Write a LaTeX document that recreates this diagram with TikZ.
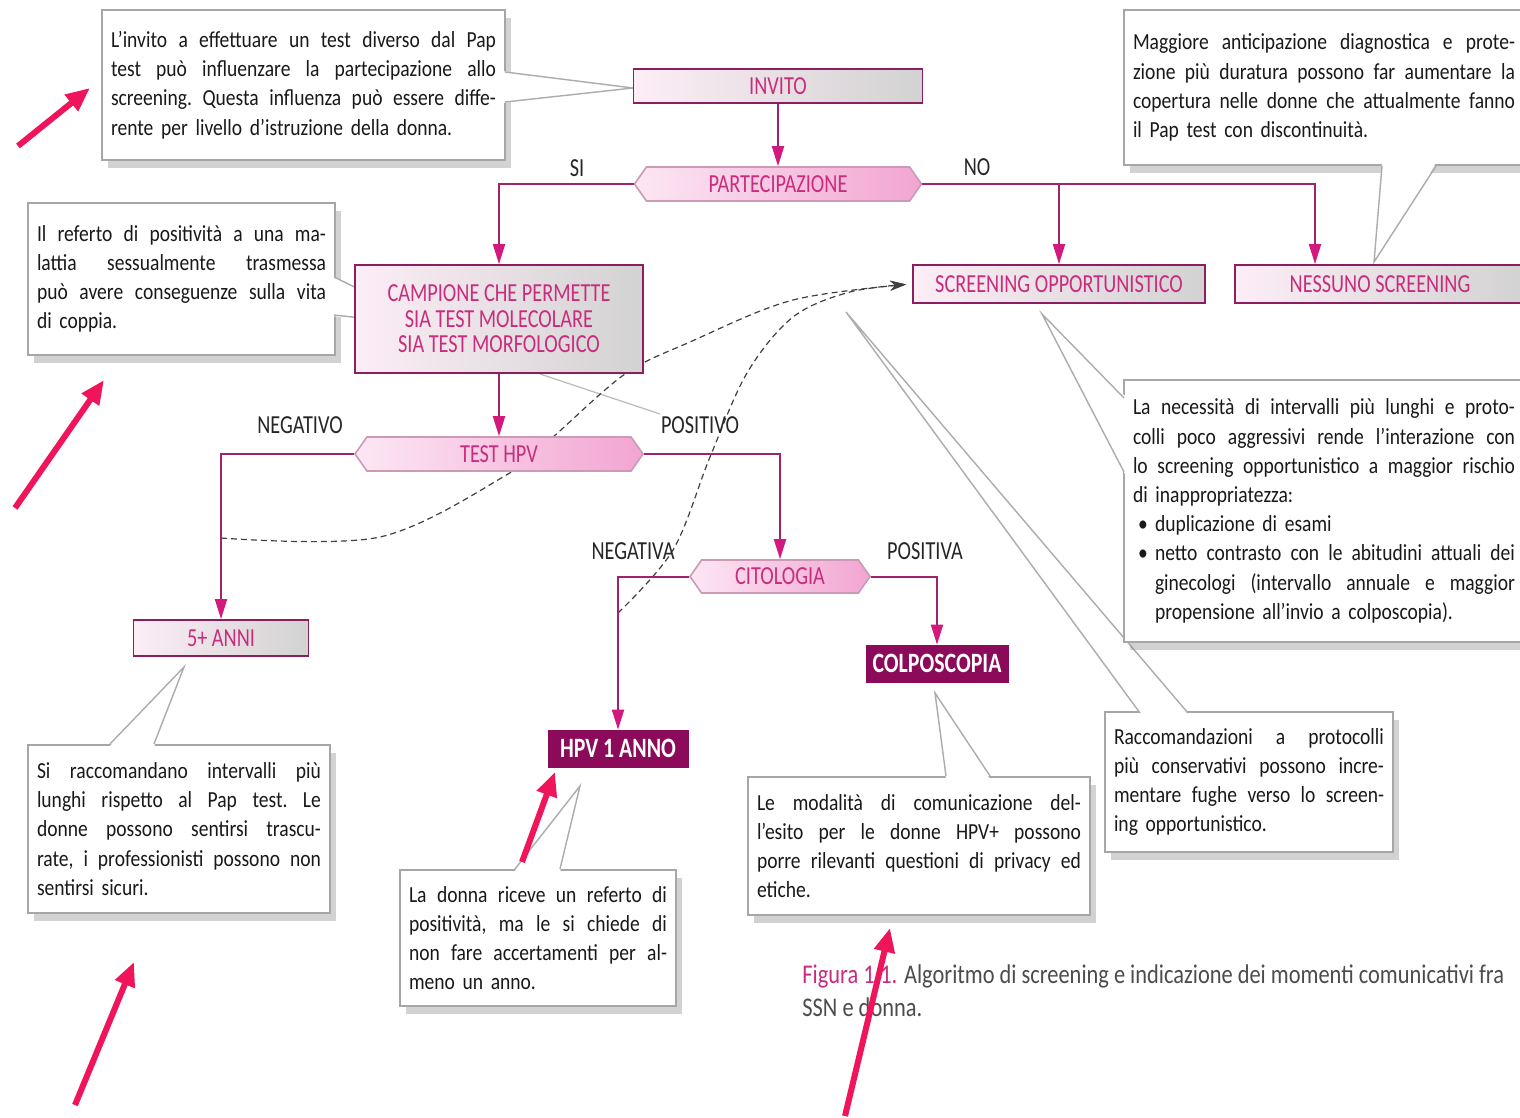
\documentclass[tikz,border=0pt]{standalone}
\usepackage{fontspec}
\setmainfont[FakeStretch=0.85]{Carlito}
\newfontfamily\condf[FakeStretch=0.78]{Carlito}
\newfontfamily\capf[FakeStretch=0.83]{Carlito}
\usetikzlibrary{shapes.symbols,arrows.meta,shadows,calc}
\pgfdeclarelayer{bgfill}
\pgfdeclarelayer{background}
\pgfsetlayers{bgfill,background,main}
\definecolor{bordmag}{RGB}{140,30,95}
\definecolor{txtmag}{RGB}{200,45,125}
\definecolor{darkmag}{RGB}{140,10,90}
\definecolor{linemag}{RGB}{160,35,110}
\definecolor{tipmag}{RGB}{210,25,125}
\definecolor{hotred}{RGB}{240,20,90}
\definecolor{pinkA}{RGB}{250,215,235}
\definecolor{pinkB}{RGB}{242,165,210}
\newdimen\cw
\newcommand\stretchsp{\frenchspacing\spaceskip=\fontdimen2\font plus 1fil minus \fontdimen4\font\relax
  \xspaceskip=\spaceskip}
\newcommand\JL[1]{\leavevmode\hbox to \cw{\stretchsp #1}\par}
\newcommand\JLi[1]{\leavevmode\hbox to \cw{\stretchsp\hskip 11pt #1}\par}
\newcommand\bul{\hbox to 11pt{\hskip 2.5pt•\hss}}
\begin{document}
\begin{tikzpicture}[x=0.5pt,y=-0.5pt,
  flowbox/.style={draw=bordmag,line width=0.9pt,left color=pinkA!45!white,right color=gray!35,
    inner sep=0pt,font=\condf\fontsize{13}{12.75}\selectfont,text=txtmag,align=center},
  hexbox/.style={shape=signal,signal to=west and east,signal pointer angle=110,
    draw=bordmag!45!white,line width=0.8pt,left color=pinkA!60!white,right color=pinkB,
    inner sep=0pt,font=\condf\fontsize{13}{13}\selectfont,text=txtmag},
  darkbox/.style={fill=darkmag,draw=darkmag,text=white,inner sep=0pt,
    font=\condf\bfseries\fontsize{14}{14}\selectfont},
  callout/.style={draw=gray!70,fill=white,line width=0.6pt,text width=#1,
    execute at begin node={\cw=#1\relax},
    drop shadow={shadow xshift=3pt,shadow yshift=-4pt,opacity=0.35,fill=gray},
    font=\fontsize{11.5}{14.6}\selectfont,text=black!90,align=left,inner xsep=4.5pt,inner ysep=0pt},
  flow/.style={draw=linemag,line width=1pt,-{Triangle[length=10pt,width=6pt,color=tipmag]}},
  lbl/.style={font=\condf\fontsize{13}{13}\selectfont,text=black!85,inner sep=0pt},
  ptrfill/.style={fill=white},
  ptr/.style={draw=gray!65,line width=0.7pt},
  dcurve/.style={draw=black!75,dash pattern=on 3pt off 2pt,line width=0.6pt,
    -{Stealth[length=8pt,width=5pt]}},
  redarrow/.style={draw=hotred,line width=3pt,-{Triangle[length=12pt,width=10pt]}}
]
\useasboundingbox (0,0) rectangle (1520,1118);
\begin{pgfonlayer}{bgfill}
\fill[white] (0,0) rectangle (1520,1118);
\end{pgfonlayer}

% callouts
\node[callout=192.5pt,minimum height=75pt] (c1) at (303.5,85) {%
\JL{L'invito a effettuare un test diverso dal Pap}
\JL{test può influenzare la partecipazione allo}
\JL{screening. Questa influenza può essere diffe-}
rente per livello d'istruzione della donna.};

\node[callout=191pt,minimum height=77.5pt] (cright) at (1324,87.5) {%
\JL{Maggiore anticipazione diagnostica e prote-}
\JL{zione più duratura possono far aumentare la}
\JL{copertura nelle donne che attualmente fanno}
il Pap test con discontinuità.};

\node[callout=144.5pt,minimum height=76pt] (cref) at (181.5,279) {%
\JL{Il referto di positività a una ma-}
\JL{lattia sessualmente trasmessa}
\JL{può avere conseguenze sulla vita}
di coppia.};

\node[callout=142pt,minimum height=84pt] (csi) at (179,829) {%
\JL{Si raccomandano intervalli più}
\JL{lunghi rispetto al Pap test. Le}
\JL{donne possono sentirsi trascu-}
\JL{rate, i professionisti possono non}
sentirsi sicuri.};

\node[callout=129pt,minimum height=68pt] (cdonna) at (538,938) {%
\JL{La donna riceve un referto di}
\JL{positività, ma le si chiede di}
\JL{non fare accertamenti per al-}
meno un anno.};

\node[callout=162pt,minimum height=69pt] (cmod) at (919,846) {%
\JL{Le modalità di comunicazione del-}
\JL{l'esito per le donne HPV+ possono}
\JL{porre rilevanti questioni di privacy ed}
etiche.};

\node[callout=135pt,minimum height=70pt] (cracc) at (1249,782) {%
\JL{Raccomandazioni a protocolli}
\JL{più conservativi possono incre-}
\JL{mentare fughe verso lo screen-}
ing opportunistico.};

% long pointer to cracc (passes behind cnec)
\fill[ptrfill] (1140,714) -- (846,312) -- (1188,714) -- cycle;
\draw[ptr] (1140,713) -- (846,312) -- (1188,713);

\node[callout=191pt,minimum height=131pt] (cnec) at (1324,511) {%
\JL{La necessità di intervalli più lunghi e proto-}
\JL{colli poco aggressivi rende l'interazione con}
\JL{lo screening opportunistico a maggior rischio}
\leavevmode di inappropriatezza:\par
\leavevmode\bul duplicazione di esami\par
\leavevmode\hbox to \cw{\stretchsp\bul netto contrasto con le abitudini attuali dei}\par
\JLi{ginecologi (intervallo annuale e maggior}
\leavevmode\hspace*{11pt}propensione all'invio a colposcopia).};

% pointer wedges
\fill[ptrfill] (502,71) -- (633,88) -- (502,103) -- cycle;
\draw[ptr] (505,72) -- (633,88) -- (505,102);
\fill[ptrfill] (1382,163) -- (1374,262) -- (1436,163) -- cycle;
\draw[ptr] (1382,166) -- (1374,262) -- (1436,166);
\fill[ptrfill] (331,276) -- (434,326) -- (331,316) -- cycle;
\draw[ptr] (334,277) -- (434,326) -- (334,315);
\fill[ptrfill] (1125,396) -- (1042,314) -- (1125,474) -- cycle;
\draw[ptr] (1124,398) -- (1042,314) -- (1124,472);
\fill[ptrfill] (109,747) -- (184,667) -- (154,747) -- cycle;
\draw[ptr] (110,744) -- (184,667) -- (154,744);
\fill[ptrfill] (514,872) -- (580,786) -- (560,872) -- cycle;
\draw[ptr] (515,869) -- (580,786) -- (560,869);
\fill[ptrfill] (946,779) -- (935,693) -- (990,779) -- cycle;
\draw[ptr] (946,776) -- (935,693) -- (990,776);

% flow nodes
\node[flowbox,minimum width=144.5pt,minimum height=17pt] (invito) at (778,86) {INVITO};
\node[hexbox,minimum width=143.5pt,minimum height=17pt] (parte) at (778,184) {PARTECIPAZIONE};
\node[flowbox,minimum width=144pt,minimum height=54pt] (campione) at (499,319)
  {CAMPIONE CHE PERMETTE\\SIA TEST MOLECOLARE\\SIA TEST MORFOLOGICO};
\node[hexbox,minimum width=144pt,minimum height=17pt] (testhpv) at (499,454) {TEST HPV};
\node[flowbox,minimum width=146pt,minimum height=19pt] (screen) at (1059,284) {SCREENING OPPORTUNISTICO};
\node[flowbox,minimum width=145pt,minimum height=19pt] (nessuno) at (1380,284) {NESSUNO SCREENING};
\node[flowbox,minimum width=87.5pt,minimum height=18pt] (cinque) at (221,638) {5+ ANNI};
\node[hexbox,minimum width=90pt,minimum height=16.5pt] (citologia) at (780,576.5) {CITOLOGIA};
\node[darkbox,minimum width=70pt,minimum height=18.5pt] (hpv1) at (618,748.5) {HPV 1 ANNO};
\node[darkbox,minimum width=71pt,minimum height=18.5pt] (colpo) at (937,663.5) {COLPOSCOPIA};

% connectors
\draw[flow] (invito.south) -- (parte.north);
\draw[flow] (parte.west) -| (campione.north);
\draw[flow] (parte.east) -| (screen.north);
\draw[flow] (parte.east) -| ([xshift=-32.5pt]nessuno.north);
\draw[flow] (campione.south) -- (testhpv.north);
\draw[flow] (testhpv.west) -| (cinque.north);
\draw[flow] (testhpv.east) -| (citologia.north);
\draw[flow] (citologia.west) -| (hpv1.north);
\draw[flow] (citologia.east) -| (colpo.north);

% branch labels
\node[lbl] (lsi) at (577,168) {SI};
\node[lbl] (lno) at (977,167) {NO};
\node[lbl] (lneg) at (300,425) {NEGATIVO};
\node[lbl] (lpos) at (700,425) {POSITIVO};
\node[lbl] (lnega) at (633,551) {NEGATIVA};
\node[lbl] (lposa) at (925,551) {POSITIVA};

% dashed curves (behind nodes)
\coordinate (dA) at (221,538);
\coordinate (dB) at (618,613);
\begin{pgfonlayer}{background}
\draw[gray!55,line width=0.6pt] (540,374) -- (660,414);
\draw[dcurve,shorten >=3pt] plot[smooth,tension=0.55] coordinates
  {(dA) (380,537) (508,474) (553,437) (625,374) (690,342) (793,300) (screen.west)};
\draw[dcurve,shorten >=3pt] plot[smooth,tension=0.55] coordinates
  {(dB) (673,550) (710,457) (747,373) (793,317) (850,292) (screen.west)};
\end{pgfonlayer}

% caption
\node[anchor=base west,font=\capf\fontsize{13.5}{16}\selectfont,text=black!70,inner sep=0pt] (cap1) at (802,983)
  {\textcolor{txtmag}{Figura 1.1.} Algoritmo di screening e indicazione dei momenti comunicativi fra};
\node[anchor=base west,font=\capf\fontsize{13.5}{16}\selectfont,text=black!70,inner sep=0pt] (cap2) at (802,1016)
  {SSN e donna.};

% red annotation arrows
\coordinate (r1a) at (18,146); \coordinate (r1b) at (90,88);
\coordinate (r2a) at (15,508); \coordinate (r2b) at (104,380);
\coordinate (r3a) at (75,1105); \coordinate (r3b) at (134,962);
\coordinate (r4a) at (522,862); \coordinate (r4b) at (555,772);
\coordinate (r5a) at (845,1116); \coordinate (r5b) at (890,928);
\draw[redarrow] (r1a) -- (r1b);
\draw[redarrow] (r2a) -- (r2b);
\draw[redarrow] (r3a) -- (r3b);
\draw[redarrow] (r4a) -- (r4b);
\draw[redarrow] (r5a) -- (r5b);
\end{tikzpicture}
\end{document}
